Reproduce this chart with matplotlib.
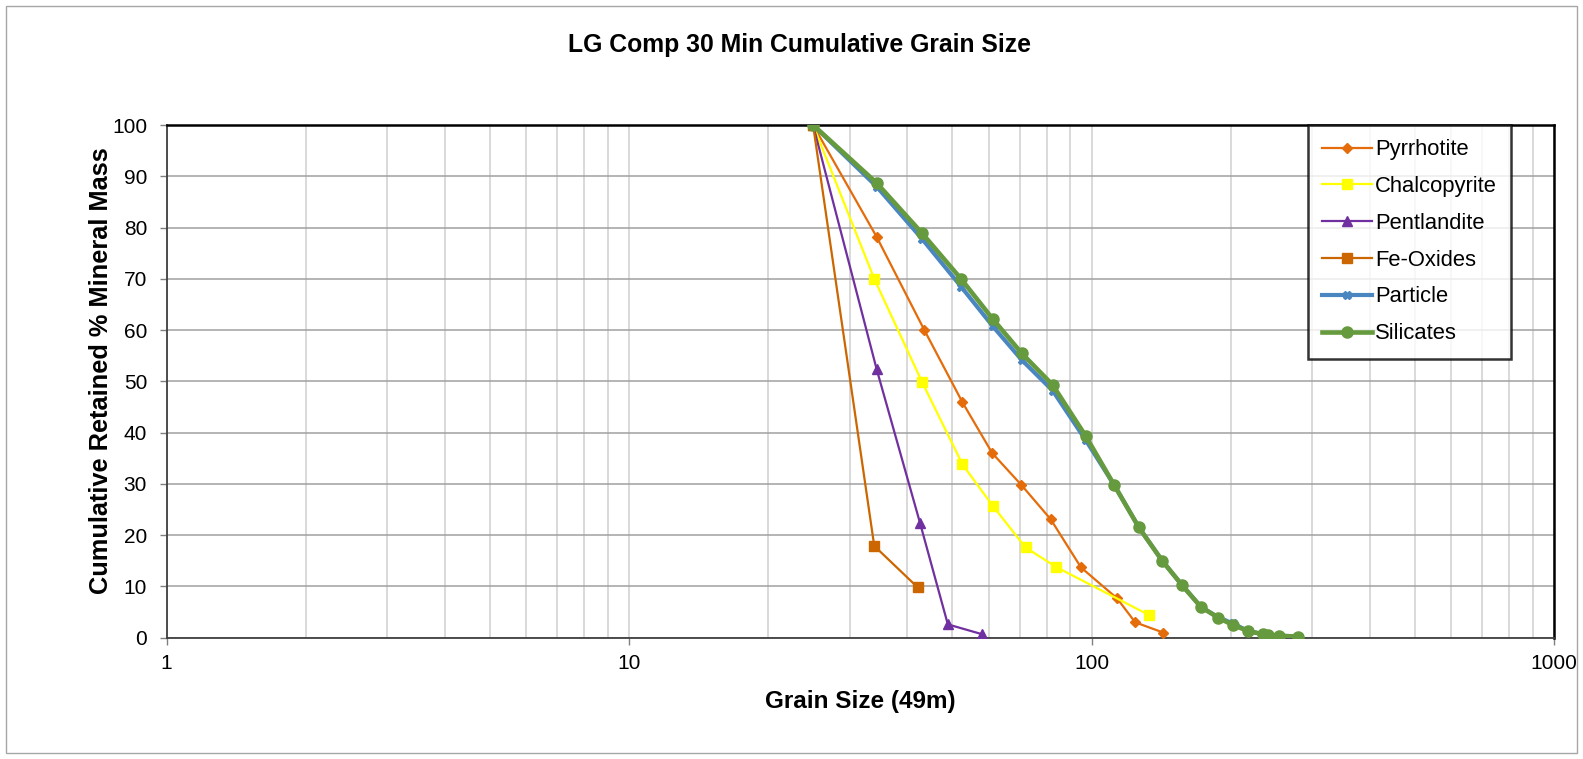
import matplotlib
matplotlib.use("Agg")
import matplotlib.pyplot as plt
from matplotlib.patches import Rectangle
from matplotlib.ticker import FixedLocator, FixedFormatter, NullFormatter, LogLocator

plt.rcParams["font.family"] = ["Liberation Sans", "DejaVu Sans"]

# grain size (um) vs cumulative retained % mineral mass
pyrr_x = [25, 34.3, 43.5, 52.6, 61.0, 70.5, 81.6, 94.9, 113.5, 124.3, 142.9]
pyrr_y = [100, 78.2, 60.0, 45.9, 36.0, 29.8, 23.1, 13.7, 7.7, 3.0, 1.0]

chalco_x = [25, 33.9, 43.0, 52.6, 61.3, 72.0, 83.8, 133.3]
chalco_y = [100, 70.0, 49.9, 33.8, 25.6, 17.6, 13.8, 4.4]

pent_x = [25, 34.3, 42.6, 48.9, 57.9]
pent_y = [100, 52.4, 22.3, 2.6, 0.7]

feox_x = [25, 33.9, 42.1]
feox_y = [100, 17.9, 9.8]

part_x = [25, 34.3, 43.0, 52.2, 61.1, 70.6, 82.4, 97.2, 111.9, 126.6, 142.2,
          157.1, 172.4, 187.9, 201.8, 218.2, 235, 241, 254.6, 280]
part_y = [100, 88.0, 77.8, 68.5, 60.8, 54.2, 48.2, 38.5, 29.8, 21.5, 15.0,
          10.2, 6.0, 4.0, 2.8, 1.3, 0.7, 0.6, 0.4, 0.2]

sil_x = [25, 34.3, 43.0, 52.2, 61.1, 70.6, 82.4, 97.2, 111.9, 126.6, 142.2,
         157.1, 172.4, 187.9, 201.8, 218.2, 235, 241, 254.6, 280]
sil_y = [100, 88.7, 78.9, 70.0, 62.2, 55.5, 49.3, 39.3, 29.8, 21.5, 15.0,
         10.2, 6.0, 3.9, 2.5, 1.3, 0.65, 0.5, 0.4, 0.2]

fig = plt.figure(figsize=(15.83, 7.59), dpi=100)
fig.patches.append(Rectangle((6 / 1583, 1 - 753 / 759), 1571 / 1583, 747 / 759,
                             transform=fig.transFigure, fill=False,
                             edgecolor="#a6a6a6", linewidth=1.0))
ax = fig.add_axes([0.1052, 0.1598, 0.8765, 0.6755])

ax.plot(pyrr_x, pyrr_y, color="#E46C0A", lw=1.6, marker="D", ms=5, label="Pyrrhotite", zorder=3)
ax.plot(chalco_x, chalco_y, color="#FFFF00", lw=1.6, marker="s", ms=7, label="Chalcopyrite", zorder=3)
ax.plot(pent_x, pent_y, color="#7030A0", lw=1.6, marker="^", ms=7, label="Pentlandite", zorder=3)
ax.plot(feox_x, feox_y, color="#CC6600", lw=1.6, marker="s", ms=7, label="Fe-Oxides", zorder=3)
ax.plot(part_x, part_y, color="#4A86C0", lw=3.0, marker="X", ms=6, label="Particle", zorder=3)
ax.plot(sil_x, sil_y, color="#669A3E", lw=3.3, marker="o", ms=8, label="Silicates", zorder=4)

ax.set_xscale("log")
ax.set_xlim(1, 1000)
ax.set_ylim(0, 100)
ax.xaxis.set_major_locator(FixedLocator([1, 10, 100, 1000]))
ax.xaxis.set_major_formatter(FixedFormatter(["1", "10", "100", "1000"]))
ax.xaxis.set_minor_locator(LogLocator(base=10, subs=range(2, 10)))
ax.xaxis.set_minor_formatter(NullFormatter())
ax.set_yticks(range(0, 101, 10))

ax.grid(True, axis="x", which="both", color="#d0d0d0", lw=1.1)
ax.grid(True, axis="y", which="major", color="#a0a0a0", lw=1.1)
ax.set_axisbelow(True)

ax.tick_params(axis="both", which="major", length=5, width=1, color="#808080",
               labelsize=15, pad=7)
ax.tick_params(axis="x", which="minor", length=0)
ax.tick_params(axis="y", pad=9)

for side in ["top", "right"]:
    ax.spines[side].set_color("black")
    ax.spines[side].set_linewidth(1.8)
for side in ["left", "bottom"]:
    ax.spines[side].set_color("#404040")
    ax.spines[side].set_linewidth(1.3)

fig.text(0.5 + (799 - 791.5) / 1583, 1 - 45 / 759, "LG Comp 30 Min Cumulative Grain Size",
         fontsize=17.8, fontweight="bold", ha="center", va="center")
ax.set_xlabel("Grain Size (49m)", fontsize=17.5, fontweight="bold", labelpad=12)
ax.set_ylabel("Cumulative Retained % Mineral Mass", fontsize=18.3, fontweight="bold")
ax.yaxis.set_label_coords(-0.0386, 0.52)

leg = ax.legend(loc="upper right", bbox_to_anchor=(0.969, 1.0), fontsize=15.8,
                frameon=True, fancybox=False, edgecolor="black",
                borderpad=0.65, labelspacing=0.72, handlelength=2.25,
                handletextpad=0.15, borderaxespad=0)
leg.get_frame().set_linewidth(1.8)

fig.savefig("out.png", dpi=100)
